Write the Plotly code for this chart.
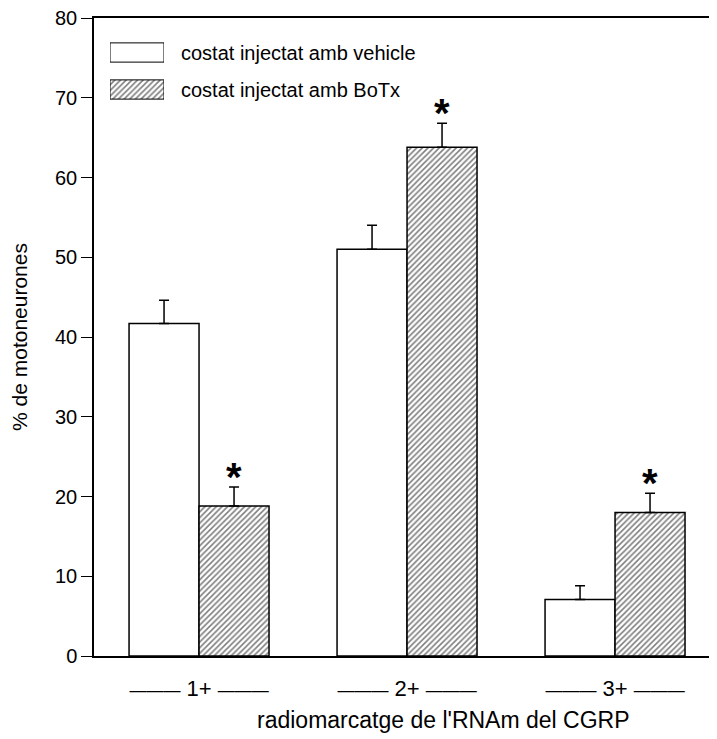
import plotly.graph_objects as go

categories = ["1+", "2+", "3+"]
tick_labels = ["1+", "2+", "3+"]
vehicle_vals = [41.7, 51.0, 7.1]
vehicle_err = [2.9, 3.0, 1.7]
botx_vals = [18.8, 63.8, 18.0]
botx_err = [2.4, 3.0, 2.4]
series_names = ["costat injectat amb vehicle", "costat injectat amb BoTx"]
significant = [True, True, True]
y_ticks = [0, 10, 20, 30, 40, 50, 60, 70, 80]

FONT = "Arial, Liberation Sans, sans-serif"
OFF = 8  # default page body margin
W, H = 717 - OFF, 739 - OFF
# target plot area in page pixels: x 94..717, y 18..656
L, R, T = 94 - OFF, 0, 18 - OFF
B = H - (656 - OFF)
pw, ph = W - L - R, H - T - B

def px_x(px):  # page pixel -> paper
    return (px - OFF - L) / pw

def px_y(py):
    return (T + ph - (py - OFF)) / ph

fig = go.Figure()

fig.add_trace(go.Bar(
    x=categories, y=vehicle_vals, name=series_names[0],
    marker=dict(color="white", line=dict(color="black", width=1.5)),
    error_y=dict(type="data", array=vehicle_err, arrayminus=[0] * 3, symmetric=False,
                 color="black", thickness=1.5, width=5),
    showlegend=False,
))
fig.add_trace(go.Bar(
    x=categories, y=botx_vals, name=series_names[1],
    marker=dict(color="white", line=dict(color="black", width=1.5),
                pattern=dict(shape="/", fgcolor="black", bgcolor="white", size=4, solidity=0.4)),
    error_y=dict(type="data", array=botx_err, arrayminus=[0] * 3, symmetric=False,
                 color="black", thickness=1.5, width=5),
    showlegend=False,
))

# custom legend swatches (drawn as a small bar chart on hidden axes)
fig.add_trace(go.Bar(
    x=[1, 1], y=[0, 1], orientation="h", width=0.52, base=0,
    marker=dict(color="white", line=dict(color="black", width=1),
                pattern=dict(shape=["", "/"], fgcolor="black", bgcolor="white", size=4, solidity=0.4)),
    xaxis="x2", yaxis="y2", showlegend=False, hoverinfo="skip",
))

annotations = []
for i, name in enumerate(series_names):
    annotations.append(dict(
        x=px_x(179), y=i, xref="paper", yref="y2", text=name, showarrow=False,
        xanchor="left", yanchor="middle", font=dict(family=FONT, size=20, color="black"),
    ))

for i, c in enumerate(categories):
    if significant[i]:
        annotations.append(dict(
            x=c, y=botx_vals[i] + botx_err[i], xref="x", yref="y", text="<b>*</b>",
            showarrow=False, xshift=35, yanchor="bottom", yshift=-14,
            font=dict(family=FONT, size=40, color="black"),
        ))

annotations.append(dict(
    x=px_x(443), y=px_y(720), xref="paper", yref="paper",
    text="radiomarcatge de l'RNAm del CGRP", showarrow=False,
    xanchor="center", yanchor="middle", font=dict(family=FONT, size=23, color="black"),
))

dash = "<span style='font-size:17px'>\u2014\u2014\u2014</span>"
ticktext = [f"{dash} {t} {dash}" for t in tick_labels]

fig.update_layout(
    width=W, height=H,
    margin=dict(l=L, r=R, t=T, b=B, pad=0),
    paper_bgcolor="white", plot_bgcolor="white",
    barmode="group", bargap=0.327, bargroupgap=0,
    font=dict(family=FONT, size=20, color="black"),
    annotations=annotations,
    xaxis=dict(
        range=[-0.505, -0.505 + pw / 208.0], tickmode="array", tickvals=categories,
        ticktext=ticktext, ticks="", showline=True, linecolor="black", linewidth=1.5,
        mirror=True, showgrid=False, zeroline=False, ticklabelstandoff=12,
        tickfont=dict(family=FONT, size=22), automargin=False,
    ),
    yaxis=dict(
        range=[0, 80], tickvals=y_ticks, ticks="outside", ticklen=11, tickwidth=1,
        tickcolor="black", showline=True, linecolor="black", linewidth=1.5, mirror=True,
        showgrid=False, zeroline=False, tickfont=dict(family=FONT, size=20),
        ticklabeloverflow="allow",
        title=dict(text="% de motoneurones", font=dict(family=FONT, size=21), standoff=22),
        automargin=False,
    ),
    xaxis2=dict(domain=[px_x(110), px_x(164)], range=[0, 1], visible=False,
                anchor="y2", fixedrange=True),
    yaxis2=dict(domain=[px_y(108), px_y(34)], range=[1.5, -0.5], visible=False,
                anchor="x2", fixedrange=True),
)

fig.write_html("out.html")
